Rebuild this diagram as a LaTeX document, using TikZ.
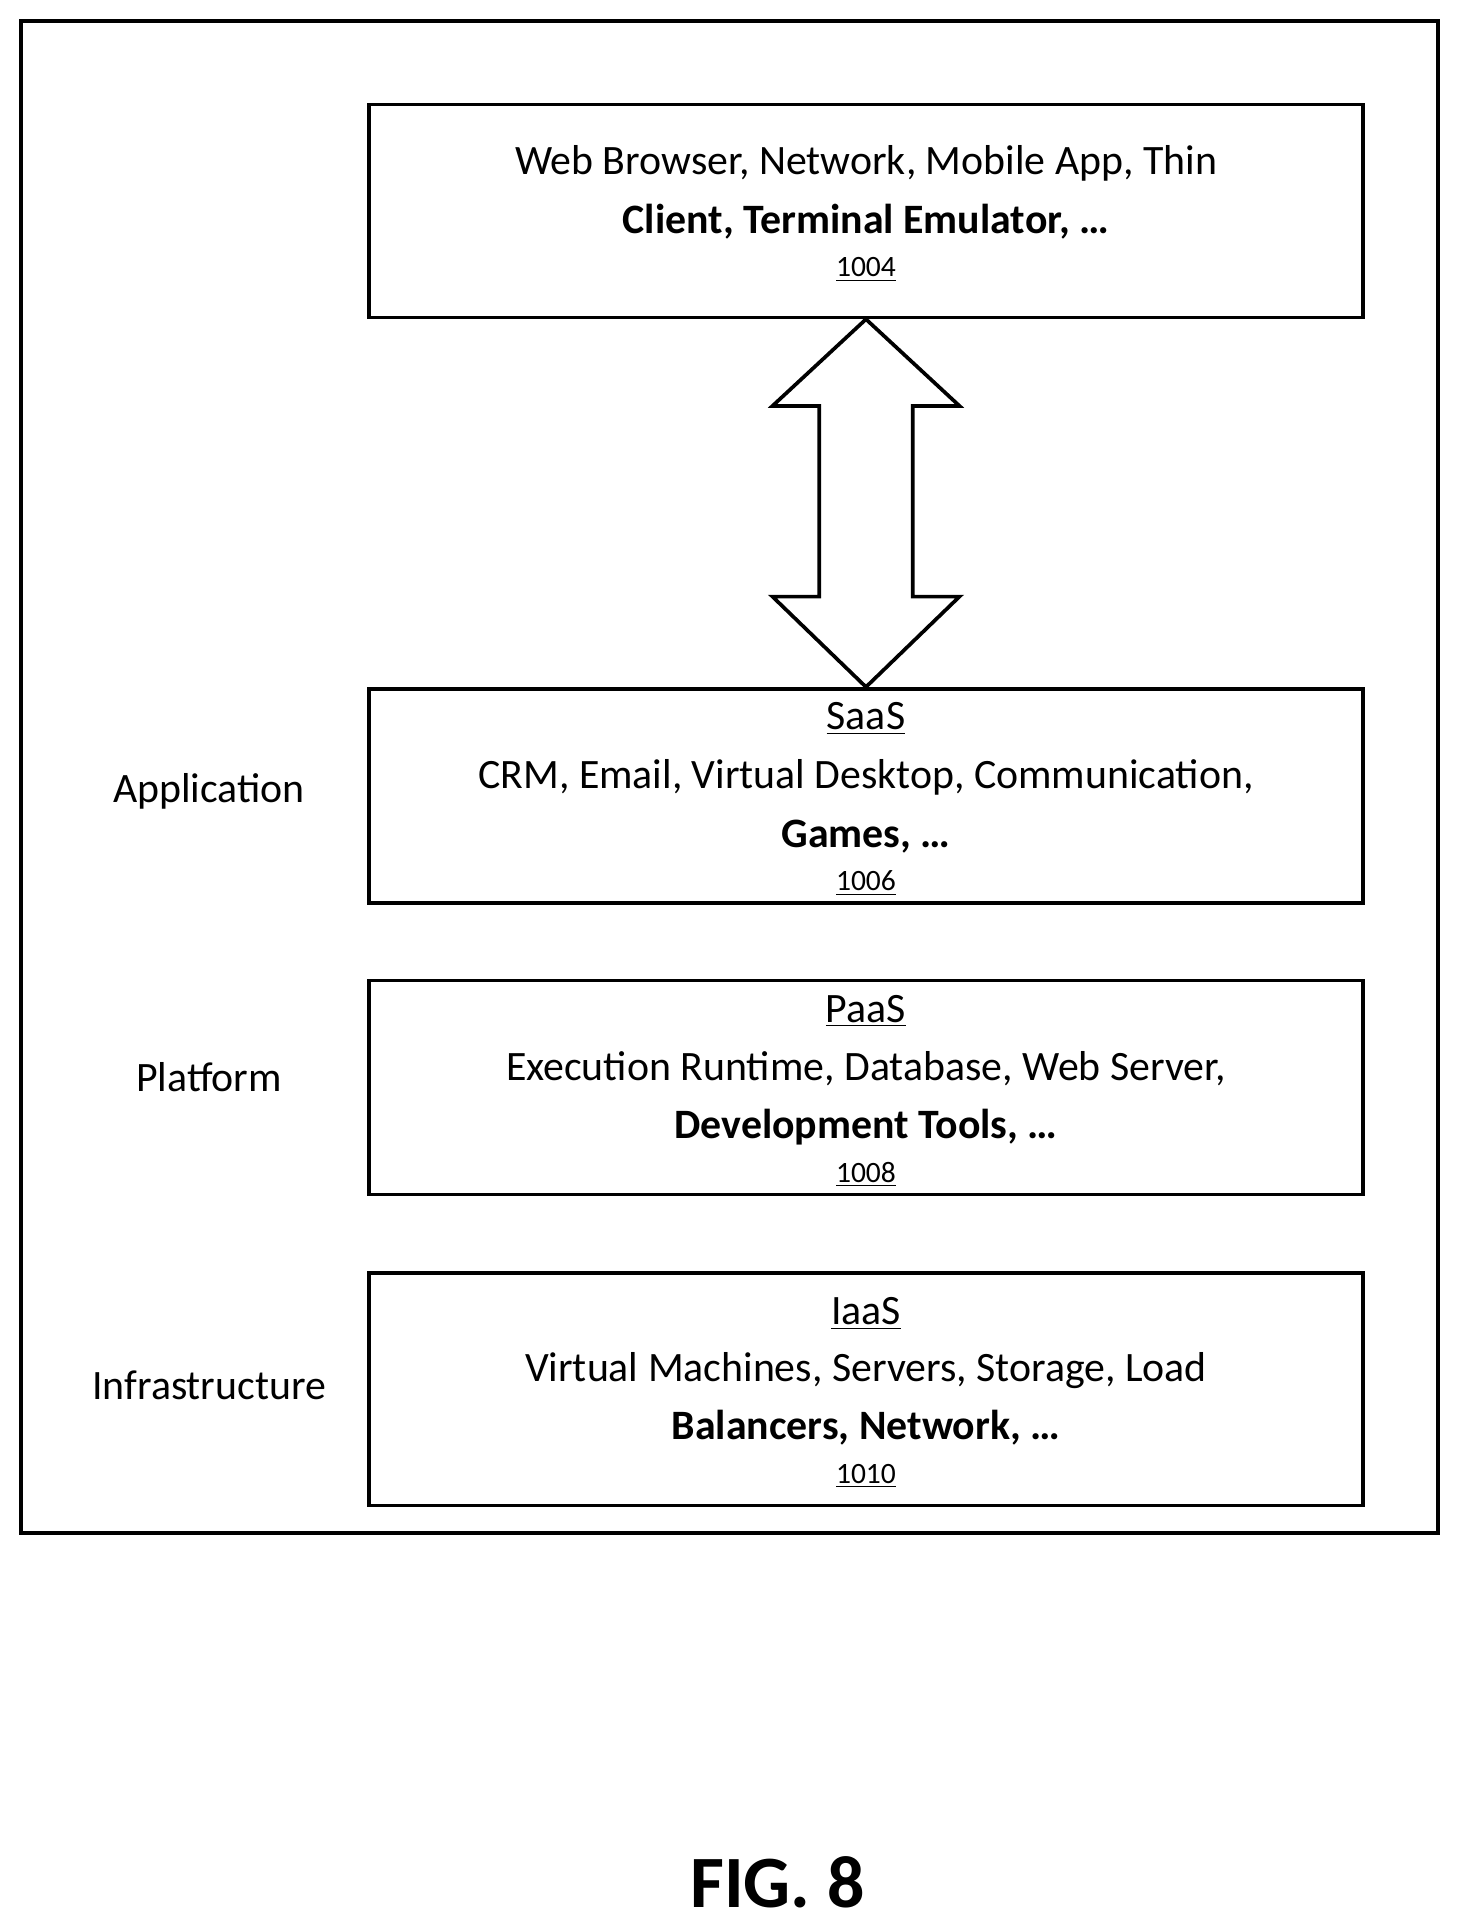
\documentclass[tikz,border=0pt]{standalone}
\usepackage{fontspec}
\setmainfont{Carlito}
\begin{document}
\begin{tikzpicture}[x=0.5pt,y=-0.5pt,line width=1.5pt,
 box/.style={draw,line width=1.5pt},
 t/.style={font=\fontsize{17}{20}\selectfont,anchor=center,inner sep=0},
 tb/.style={font=\fontsize{17}{20}\selectfont\bfseries,anchor=center,inner sep=0},
 num/.style={font=\fontsize{12}{14}\selectfont,anchor=center,inner sep=0}]
\useasboundingbox (0,0) rectangle (1188,1569);
\draw (17,17) rectangle (1169,1246);
\node[box,minimum width=404pt,minimum height=86.5pt,inner sep=0] (b1) at (704,171.5) {};
\node[box,minimum width=404pt,minimum height=87pt,inner sep=0] (b2) at (704,647) {};
\node[box,minimum width=404pt,minimum height=87pt,inner sep=0] (b3) at (704,884) {};
\node[box,minimum width=404pt,minimum height=94.5pt,inner sep=0] (b4) at (704,1129.5) {};
\node[t] at (704,133) {Web Browser, Network, Mobile App, Thin};
\node[tb] at (704,180) {Client, Terminal Emulator, …};
\node[num] at (704,219) {\underline{1004}};
\node[t] at (704,584) {\underline{SaaS}};
\node[t] at (704,632) {CRM, Email, Virtual Desktop, Communication,};
\node[tb] at (704,680) {Games, …};
\node[num] at (704,718) {\underline{1006}};
\node[t] at (704,822) {\underline{PaaS}};
\node[t] at (704,869) {Execution Runtime, Database, Web Server,};
\node[tb] at (704,916) {Development Tools, …};
\node[num] at (704,955) {\underline{1008}};
\node[t] at (704,1068) {\underline{IaaS}};
\node[t] at (704,1114) {Virtual Machines, Servers, Storage, Load};
\node[tb] at (704,1161) {Balancers, Network, …};
\node[num] at (704,1200) {\underline{1010}};
\node[t] (la) at (170,643) {Application};
\node[t] (lp) at (170,876) {Platform};
\node[t] (li) at (170,1126) {Infrastructure};
\draw[line join=miter] (b1.south) -- (780,330) -- (742,330) -- (742,485) -- (780,485) -- (b2.north) -- (628,485) -- (666,485) -- (666,330) -- (628,330) -- cycle;
\node[font=\fontsize{30}{34}\selectfont\bfseries,inner sep=0] (fig) at (632,1530) {FIG. 8};
\end{tikzpicture}
\end{document}
